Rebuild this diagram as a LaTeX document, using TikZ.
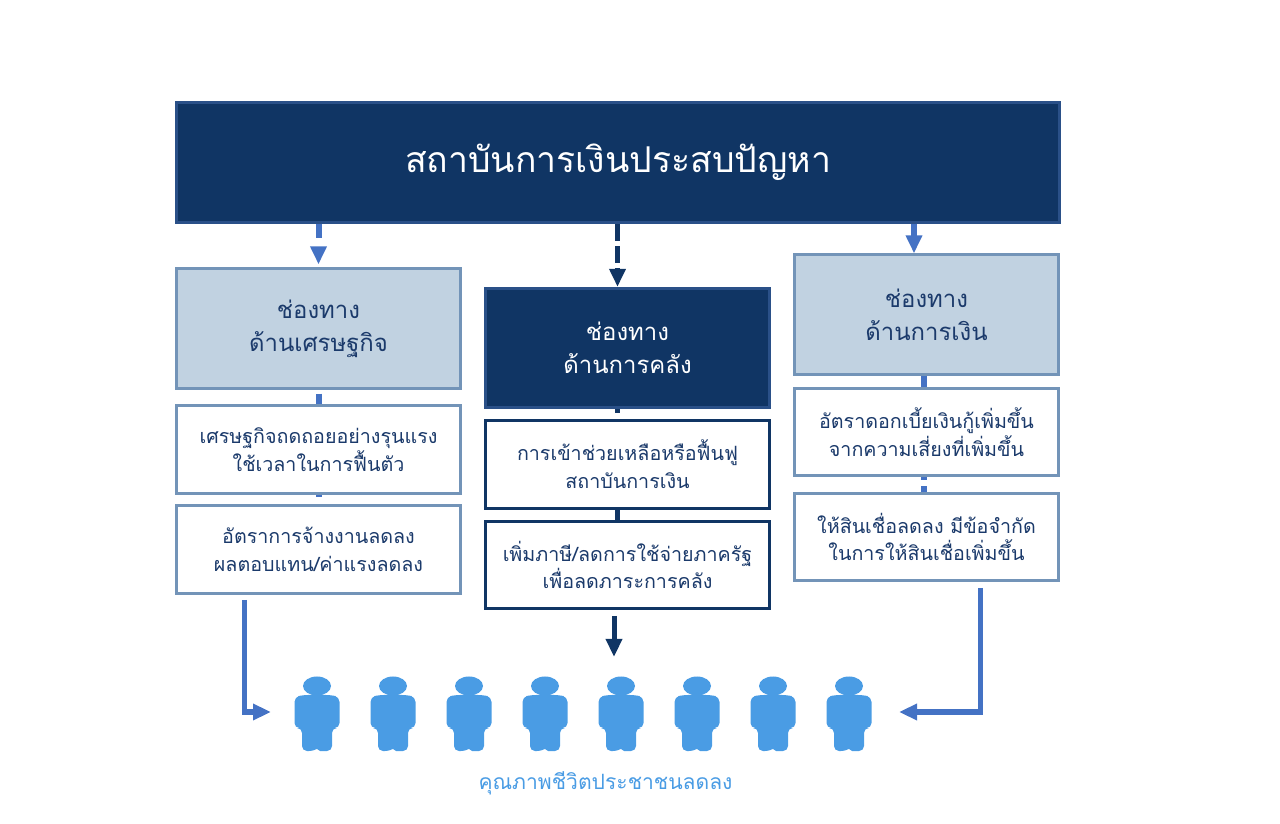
\documentclass[tikz,border=0pt]{standalone}
\usepackage{fontspec}
\setmainfont[Script=Thai]{Loma}
\usetikzlibrary{arrows.meta,positioning}
\definecolor{navy}{HTML}{103564}
\definecolor{navyedge}{HTML}{2A5088}
\definecolor{steel}{HTML}{7394B8}
\definecolor{pale}{HTML}{C1D2E1}
\definecolor{link}{HTML}{4472C4}
\definecolor{people}{HTML}{4A9CE4}
\definecolor{inktext}{HTML}{1B3A6B}
\tikzset{
    person/.pic={
        \fill[people] (0,-1) ellipse (14 and 9.5);
        \fill[people, rounded corners=3.5pt] (-22.5,10) -- (-22.5,41) -- (-15,41) -- (-15,64) -- (-3,64) [rounded corners=0pt] -- (0,62) -- (3,64) [rounded corners=3.5pt] -- (15,64) -- (15,41) -- (22.5,41) -- (22.5,10) -- (14,8) -- (-14,8) -- cycle;
    },
    lift/.style={execute at end node={\par\vspace{#1}}}
}
\begin{document}
\begin{tikzpicture}[
    x=0.25mm, y=-0.25mm,
    >={Triangle[width=3.9mm,length=4.5mm]},
    box/.style={rectangle, draw, line width=0.75mm, align=center, inner sep=1pt},
    head/.style={box, minimum width=71mm, minimum height=29.8mm, font=\fontsize{17}{23.5}\selectfont},
    sub/.style={box, fill=white, minimum width=71mm, minimum height=21.8mm, font=\fontsize{14}{19.8}\selectfont},
    light/.style={draw=steel, fill=pale, text=inktext},
    dark/.style={draw=navyedge, fill=navy, text=white},
    soft/.style={draw=steel, text=inktext},
    hard/.style={draw=navy, text=inktext},
    flow/.style={draw=link, line width=1.5mm},
    flowdark/.style={draw=navy, line width=1.25mm}
]
\useasboundingbox (0,0) rectangle (1280,824);
% Bloque superior
\node[box, dark, minimum width=220.6mm, minimum height=30.2mm, font=\fontsize{25.3}{32}\selectfont] (title) at (618,162.5) {สถาบันการเงินประสบปัญหา};
% Columna izquierda
\node[head, light] (econ) at (318.5,328.5) {ช่องทาง\\ด้านเศรษฐกิจ};
\node[sub, soft] (econa) at (318.5,449.5) {เศรษฐกิจถดถอยอย่างรุนแรง\\ใช้เวลาในการฟื้นตัว};
\node[sub, soft, lift=0.5mm] (econb) at (318.5,549.5) {อัตราการจ้างงานลดลง\\ผลตอบแทน/ค่าแรงลดลง};
% Columna central
\node[head, dark, lift=1mm] (fisc) at (627.5,348) {ช่องทาง\\ด้านการคลัง};
\node[sub, hard, lift=2mm] (fisca) at (627.5,464.5) {การเข้าช่วยเหลือหรือฟื้นฟู\\สถาบันการเงิน};
\node[sub, hard, lift=1.75mm] (fiscb) at (627.5,565) {เพิ่มภาษี/ลดการใช้จ่ายภาครัฐ\\เพื่อลดภาระการคลัง};
% Columna derecha
\node[head, light, minimum width=66.2mm, lift=1.5mm] (fin) at (926.5,314.5) {ช่องทาง\\ด้านการเงิน};
\node[sub, soft, minimum width=66.2mm, lift=2.25mm] (fina) at (926.5,432) {อัตราดอกเบี้ยเงินกู้เพิ่มขึ้น\\จากความเสี่ยงที่เพิ่มขึ้น};
\node[sub, soft, minimum width=66.2mm, lift=1.75mm] (finb) at (926.5,537) {ให้สินเชื่อลดลง มีข้อจำกัด\\ในการให้สินเชื่อเพิ่มขึ้น};
% Personas y texto inferior
\foreach \px in {317,393,469,545,621,697,773,849}
    \pic at (\px,687) {person};
\node[text=people, font=\fontsize{15}{19}\selectfont] (caption) at (605.5,783) {คุณภาพชีวิตประชาชนลดลง};
% Puntos auxiliares
\coordinate (fiscx) at (617.5,0);
\coordinate (finx) at (914,0);
\coordinate (subx) at (924,0);
\coordinate (leftout) at (244,600);
\coordinate (leftin) at (271,712);
\coordinate (rightout) at (980,588);
\coordinate (rightin) at (899,712);
\coordinate (midout) at (614,616);
\coordinate (midin) at (614,657);

% Conexiones
\draw[->, flow, shorten >=0.75mm, dash pattern=on 3.5mm off 4mm] (title.south -| econ.north) -- (econ.north);
\draw[->, flowdark, dash pattern=on 4.25mm off 1.25mm] (title.south -| fiscx) -- (fisc.north -| fiscx);
\draw[->, flow] (title.south -| finx) -- (fin.north -| finx);
\draw[flow, shorten <=1mm] (econ.south) -- (econa.north);
\draw[flow, shorten >=1.75mm] (econa.south) -- (econb.north);
\draw[flowdark, shorten >=1.5mm] (fisc.south -| fiscx) -- (fisca.north -| fiscx);
\draw[flowdark] (fisca.south -| fiscx) -- (fiscb.north -| fiscx);
\draw[flow] (fin.south -| subx) -- (fina.north -| subx);
\draw[flow, dash pattern=on 0.75mm off 1.5mm on 2mm off 1mm] (fina.south -| subx) -- (finb.north -| subx);
\draw[->, flowdark] (midout) -- (midin);
\draw[->, flow, line width=1.25mm] (leftout) |- (leftin);
\draw[->, flow, line width=1.25mm] (rightout) |- (rightin);
\end{tikzpicture}
\end{document}
